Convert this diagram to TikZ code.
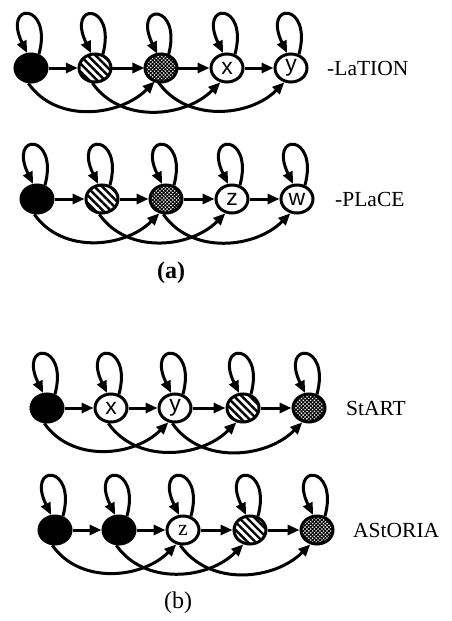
\documentclass[tikz,border=0pt]{standalone}
\usepackage{fontspec}
\setmainfont{Liberation Serif}
\newfontfamily\nodefont{Liberation Sans}
\usetikzlibrary{arrows.meta,patterns.meta,shapes.geometric}
\begin{document}
\begin{tikzpicture}[x=1pt,y=1pt,
  nd/.style={ellipse, draw, line width=3pt, minimum width=32pt, minimum height=28pt,
    inner sep=0pt, font=\nodefont\fontsize{23}{23}\selectfont},
  blk/.style={nd, fill=black},
  hatch/.style={nd, pattern={Lines[angle=-45,distance=5.5pt,line width=2.4pt]}},
  dots/.style={nd, pattern={Hatch[angle=45,distance=2.6pt,line width=1.1pt]}},
  blank/.style={nd, fill=white},
  arr/.style={line width=3pt, -{Triangle[length=12pt,width=10pt]}},
  word/.style={anchor=west, inner sep=0pt, font=\fontsize{21.5}{24}\selectfont},
  capline/.style={inner sep=0pt, font=\fontsize{24}{26}\selectfont}]
\useasboundingbox (0,0) rectangle (452,-621);

% row 1
\node[blk]   (a1) at (31,-68) {};
\node[hatch] (a2) at (95,-68) {};
\node[dots]  (a3) at (161,-68) {};
\node[blank] (a4) at (227,-68) {x};
\node[blank] (a5) at (291,-68) {y};
\node[word]  (la) at (327,-68) {-LaTION};

% row 2
\node[blk]   (b1) at (37,-199) {};
\node[hatch] (b2) at (102,-199) {};
\node[dots]  (b3) at (166,-199) {};
\node[blank] (b4) at (232,-199) {z};
\node[blank] (b5) at (297,-199) {w};
\node[word]  (lb) at (335,-199) {-PLaCE};

\node[capline] (capa) at (171,-273) {\textbf{(a)}};

% row 3
\node[blk]   (c1) at (47,-408) {};
\node[blank] (c2) at (111,-408) {x};
\node[blank] (c3) at (175,-408) {y};
\node[hatch] (c4) at (243,-408) {};
\node[dots]  (c5) at (309,-408) {};
\node[word]  (lc) at (346,-408) {StART};

% row 4
\node[blk]   (d1) at (55,-530) {};
\node[blk]   (d2) at (119,-530) {};
\node[blank, font=\fontsize{22}{22}\selectfont] (d3) at (183,-530) {z};
\node[hatch] (d4) at (250,-530) {};
\node[dots]  (d5) at (317,-530) {};
\node[word]  (ld) at (353,-530) {AStORIA};

\node[capline] (capb) at (178,-603) {(b)};

% transitions of each chain
\foreach \r in {a,b,c,d}{
  \foreach \i/\j in {1/2,2/3,3/4,4/5}
    \draw[arr] (\r\i) -- (\r\j);
  \foreach \i/\j in {1/3,2/4,3/5}
    \draw[arr] (\r\i.-100) to[out=-55,in=-135] (\r\j.-115);
  \foreach \i in {1,...,5}
    \draw[arr] (\r\i.60) .. controls +(14,52) and +(-25,52) .. (\r\i.105);
}
\end{tikzpicture}
\end{document}
